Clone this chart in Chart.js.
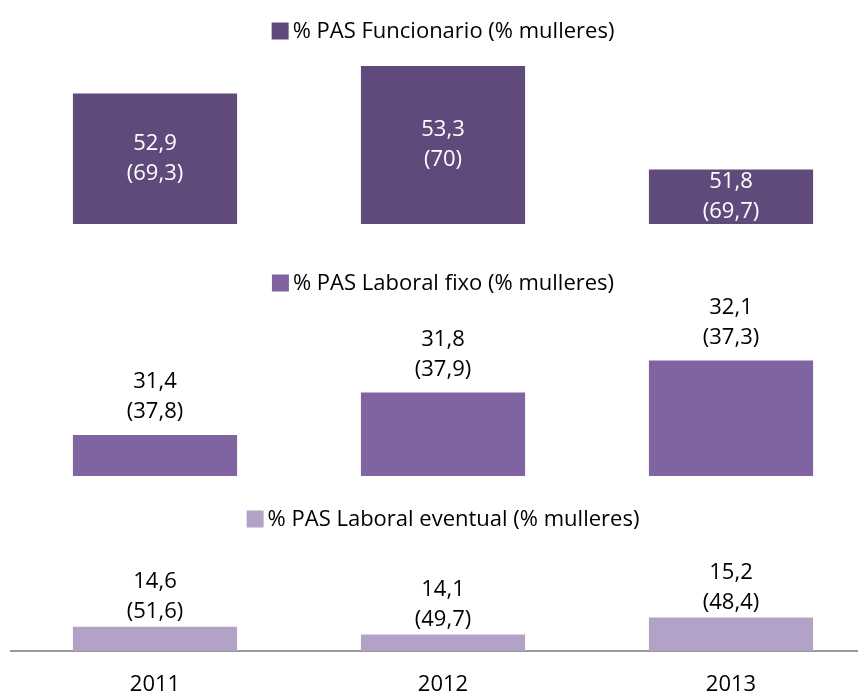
<!DOCTYPE html>
<html>
<head>
<meta charset="utf-8">
<script src="https://cdn.jsdelivr.net/npm/chart.js@4.4.1/dist/chart.umd.min.js"></script>
<style>
  html, body { margin: 0; padding: 0; background: #fff; overflow: hidden; }
  /* máis ancho e alto ca a xanela: o eixo x sae polas beiras coma no orixinal */
  #caixa { position: relative; width: 875px; height: 719px; }
</style>
</head>
<body>
<div id="caixa"><canvas id="grafico"></canvas></div>
<script>
const anos = ["2011", "2012", "2013"];

const pasFuncionario = [52.9, 53.3, 51.8];
const pasFuncionarioMulleres = [69.3, 70, 69.7];

const pasLaboralFixo = [31.4, 31.8, 32.1];
const pasLaboralFixoMulleres = [37.8, 37.9, 37.3];

const pasLaboralEventual = [14.6, 14.1, 15.2];
const pasLaboralEventualMulleres = [51.6, 49.7, 48.4];

const nomesSeries = [
  "% PAS Funcionario (% mulleres)",
  "% PAS Laboral fixo (% mulleres)",
  "% PAS Laboral eventual (% mulleres)"
];

const fonte = "'Open Sans', sans-serif";

// 52.9 -> "52,9"
const formata = (v) => String(v).replace(".", ",");

// lendas e rótulos de cada painel (o Chart.js só ten unha lenda)
const rotulosPlugin = {
  id: "rotulos",
  afterDatasetsDraw(chart) {
    const ctx = chart.ctx;
    const area = chart.chartArea;
    ctx.save();
    ctx.textBaseline = "middle";

    chart.data.datasets.forEach((ds, i) => {
      const meta = chart.getDatasetMeta(i);
      const escala = chart.scales[ds.yAxisID];

      // lenda
      ctx.font = "22px " + fonte;
      const largura = ctx.measureText(ds.label).width;
      const cadrado = 17;
      const total = cadrado + 4 + largura;
      const x0 = (area.left + area.right) / 2 - total / 2;
      const yl = escala.top + ds.lendaY;
      ctx.fillStyle = ds.backgroundColor;
      ctx.fillRect(x0, yl - cadrado / 2, cadrado, cadrado);
      ctx.fillStyle = "#000";
      ctx.textAlign = "left";
      ctx.fillText(ds.label, x0 + cadrado + 4, yl + 1);

      // valores
      ctx.font = "22px " + fonte;
      ctx.textAlign = "center";
      ctx.fillStyle = ds.rotulo.cor;
      meta.data.forEach((barra, j) => {
        const linhas = [formata(ds.data[j]), "(" + formata(ds.mulleres[j]) + ")"];
        let y;
        if (ds.rotulo.modo === "dentro") {
          y = (barra.y + escala.bottom) / 2 - 15;
        } else {
          y = barra.y - ds.rotulo.distancia - 30;
        }
        ctx.fillText(linhas[0], barra.x, y);
        ctx.fillText(linhas[1], barra.x, y + 30);
      });
    });
    ctx.restore();
  }
};

const eixoOculto = {
  display: true,
  stack: "paineis",
  ticks: { display: false },
  grid: { display: false, drawTicks: false },
  border: { display: false }
};

new Chart(document.getElementById("grafico"), {
  type: "bar",
  data: {
    labels: anos,
    datasets: [
      {
        label: nomesSeries[0],
        data: pasFuncionario,
        mulleres: pasFuncionarioMulleres,
        yAxisID: "yFuncionario",
        backgroundColor: "#604A7B",
        lendaY: 31,
        rotulo: { modo: "dentro", cor: "#fff" }
      },
      {
        label: nomesSeries[1],
        data: pasLaboralFixo,
        mulleres: pasLaboralFixoMulleres,
        yAxisID: "yFixo",
        backgroundColor: "#8064A2",
        lendaY: 59,
        rotulo: { modo: "enriba", distancia: 23, cor: "#000" }
      },
      {
        label: nomesSeries[2],
        data: pasLaboralEventual,
        mulleres: pasLaboralEventualMulleres,
        yAxisID: "yEventual",
        backgroundColor: "#B3A2C7",
        lendaY: 43,
        rotulo: { modo: "enriba", distancia: 15, cor: "#000" }
      }
    ]
  },
  options: {
    responsive: true,
    maintainAspectRatio: false,
    animation: false,
    grouped: false,
    categoryPercentage: 1,
    barPercentage: 0.57,
    layout: { padding: { left: 11, right: 0, top: 0, bottom: 0 } },
    plugins: {
      legend: { display: false },
      tooltip: { enabled: false }
    },
    scales: {
      x: {
        grid: { display: false, drawTicks: false },
        border: { display: true, color: "#999999", width: 2 },
        ticks: { color: "#000", padding: 23, font: { family: fonte, size: 22, lineHeight: 1 } }
      },
      // o primeiro eixo da pila queda abaixo
      yEventual: { ...eixoOculto, stackWeight: 175, min: 13.03, max: 24.39 },
      yFixo: { ...eixoOculto, stackWeight: 252, min: 31.016, max: 33.38 },
      yFuncionario: { ...eixoOculto, stackWeight: 224, min: 51.01, max: 54.256 }
    }
  },
  plugins: [rotulosPlugin]
});
</script>
</body>
</html>
